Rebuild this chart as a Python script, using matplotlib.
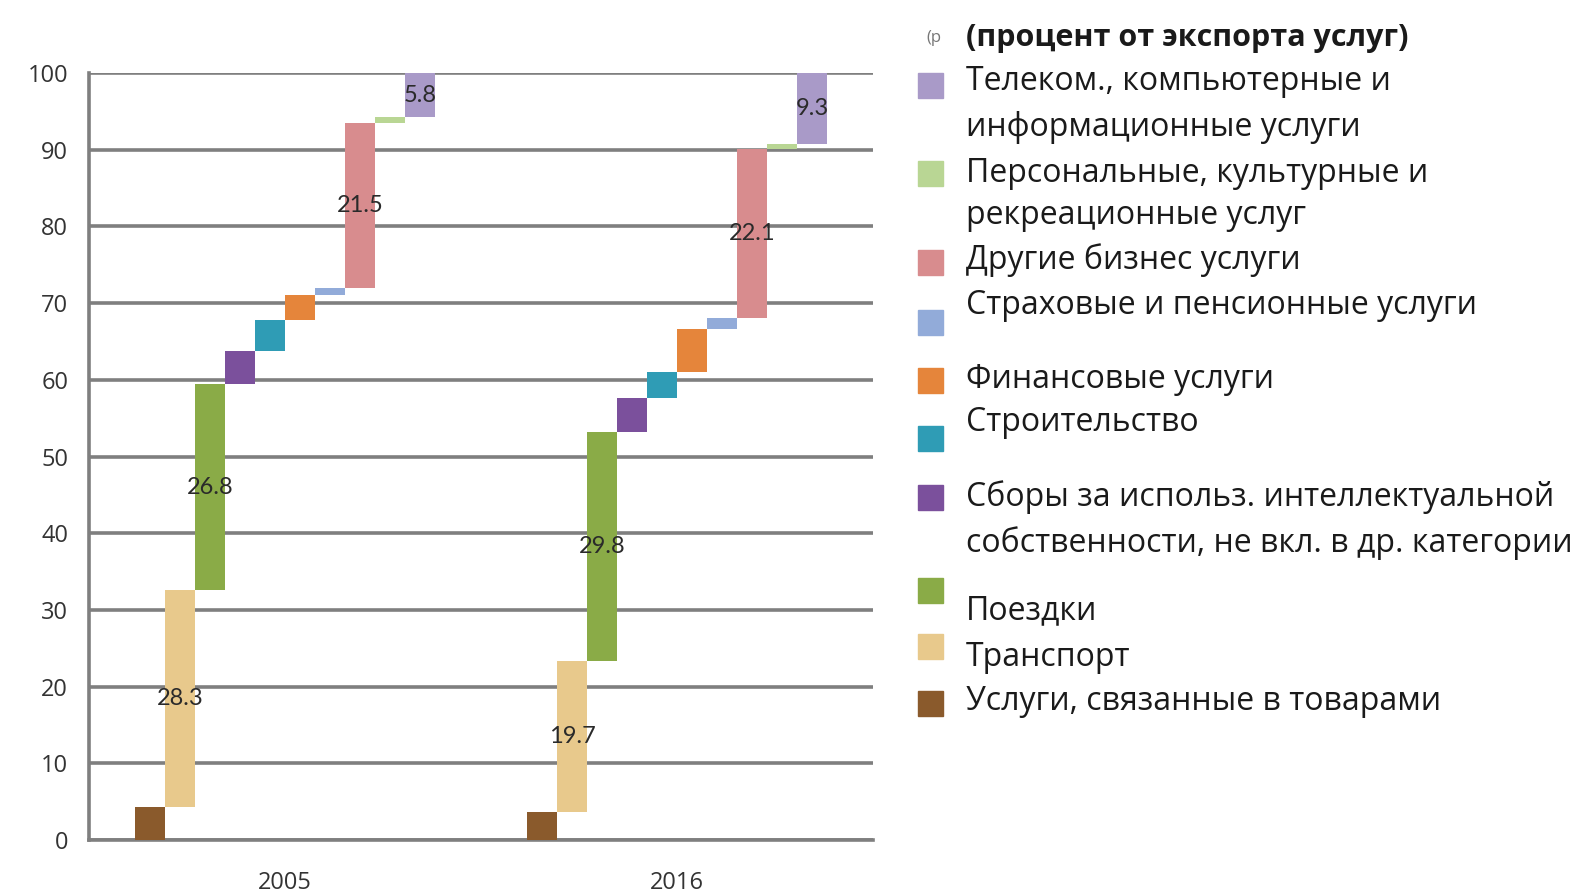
import numpy as np
import matplotlib.pyplot as plt
from matplotlib.patches import Rectangle

plt.rcParams['font.family'] = ['Open Sans', 'Lato', 'DejaVu Sans']

# Export structure, % of services exports (bottom -> top of each waterfall)
years = ['2005', '2016']
categories = [
    'Услуги, связанные в товарами',
    'Транспорт',
    'Поездки',
    'Сборы за использ. интеллектуальной\nсобственности, не вкл. в др. категории',
    'Строительство',
    'Финансовые услуги',
    'Страховые и пенсионные услуги',
    'Другие бизнес услуги',
    'Персональные, культурные и\nрекреационные услуг',
    'Телеком., компьютерные и\nинформационные услуги',
]
vals_2005 = [4.3, 28.3, 26.8, 4.4, 4.0, 3.3, 0.9, 21.5, 0.7, 5.8]
vals_2016 = [3.7, 19.7, 29.8, 4.4, 3.4, 5.6, 1.4, 22.1, 0.6, 9.3]
show_value = [False, True, True, False, False, False, False, True, False, True]
colors = ['#8a5a2c', '#e8c98c', '#8aab47', '#7b509c', '#2f9cb5',
          '#e5853b', '#92abd9', '#d88c8e', '#b9d694', '#a99ac8']

W, H = 1582, 893
fig = plt.figure(figsize=(W / 100, H / 100), dpi=100)
ax = fig.add_axes([89 / W, 1 - 840 / H, 784 / W, 767 / H])

n = len(categories)
bw = 0.0765
offsets = (np.arange(n) - (n - 1) / 2) * bw
gray = '#7f7f7f'

for yi, vals in enumerate([vals_2005, vals_2016]):
    vals = np.array(vals)
    bottoms = np.concatenate([[0], np.cumsum(vals)[:-1]])
    ax.bar(yi + offsets, vals, bottom=bottoms, width=bw, color=colors,
           linewidth=0, zorder=3)
    for k in range(n):
        if show_value[k]:
            ax.text(yi + offsets[k], bottoms[k] + vals[k] / 2, f'{vals[k]:.1f}',
                    ha='center', va='center', fontsize=17, color='#2a2a2a',
                    family='Lato', zorder=4)

ax.set_xlim(-0.5, 1.5)
ax.set_ylim(0, 100)
ax.set_yticks(np.arange(0, 101, 10))
ax.set_xticks([0, 1])
ax.set_xticklabels(years)
ax.yaxis.grid(True, color=gray, linewidth=2.6)
ax.set_axisbelow(True)
for s in ['top', 'right']:
    ax.spines[s].set_visible(False)
for s in ['left', 'bottom']:
    ax.spines[s].set_color(gray)
    ax.spines[s].set_linewidth(2.6)
ax.tick_params(axis='y', length=0, pad=15, labelsize=17, labelcolor='#333333')
ax.tick_params(axis='x', length=0, pad=22, labelsize=17, labelcolor='#333333')

# legend, drawn by hand (pixel layout of the original)
sq_top = [73, 161, 250, 310, 368, 426, 485, 578, 634, 691]
text_y = [[81, 127], [173, 215], [260], [306], [380], [423], [497, 543],
          [611], [658], [702]]
leg_order = list(range(n))[::-1]

fig.text(926 / W, 1 - 38 / H, '(р', fontsize=12, color='#777777',
         ha='left', va='center')
fig.text(966 / W, 1 - 38 / H, '(процент от экспорта услуг)', fontsize=22,
         fontweight='bold', color='#1a1a1a', ha='left', va='center')
for j, k in enumerate(leg_order):
    fig.patches.append(Rectangle((918 / W, 1 - (sq_top[j] + 25) / H), 25 / W, 25 / H,
                                 transform=fig.transFigure, color=colors[k]))
    for line, y in zip(categories[k].split('\n'), text_y[j]):
        fig.text(966 / W, 1 - y / H, line, fontsize=23, color='#1a1a1a',
                 ha='left', va='center')

fig.savefig('out.png', dpi=100)
